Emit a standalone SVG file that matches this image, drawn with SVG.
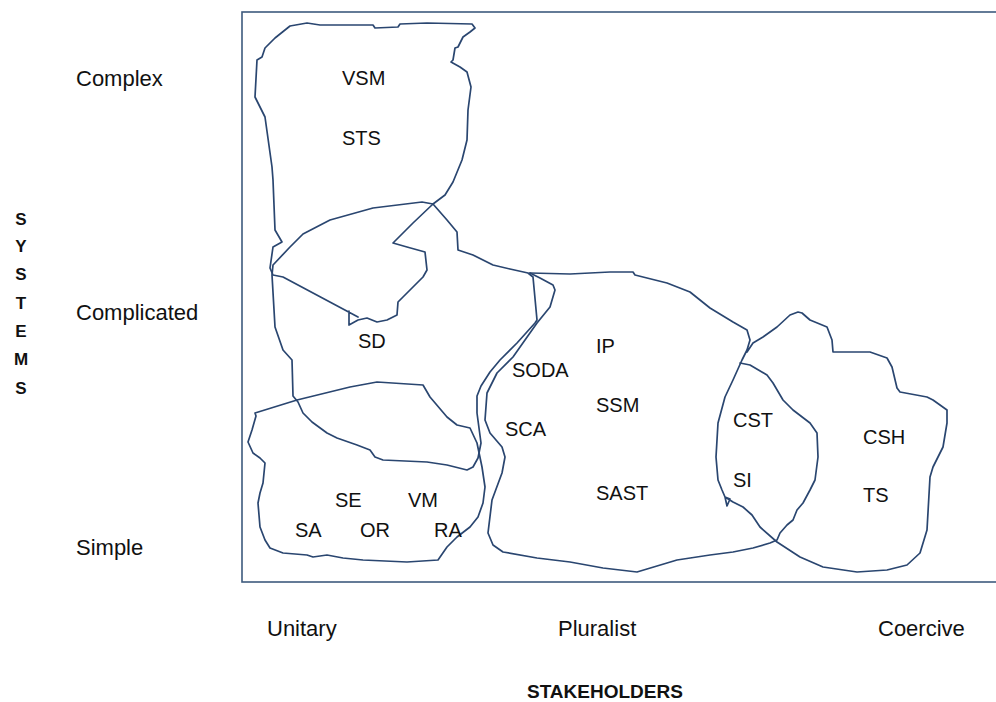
<svg xmlns="http://www.w3.org/2000/svg" width="996" height="702" viewBox="0 0 996 702">
<style>
.bg{fill:#ffffff}
.frame{fill:none;stroke:#3e5a7e;stroke-width:1.6}
.blob{fill:none;stroke:#2a4670;stroke-width:1.7;stroke-linejoin:round;stroke-linecap:round}
.t{font-family:"Liberation Sans",Arial,sans-serif;font-size:20px;fill:#111111}
.ax{font-family:"Liberation Sans",Arial,sans-serif;font-size:22px;fill:#111111}
.b{font-family:"Liberation Sans",Arial,sans-serif;font-weight:bold;fill:#111111}
.v{font-size:17px;text-anchor:middle}
</style>
<rect class="bg" x="0" y="0" width="996" height="702"/>
<rect class="frame" x="242" y="12" width="770" height="570"/>

<g id="connectors">
<path id="vsm-loop" class="blob" d="M358 317 L283 277 L273 275 L270 268 L273 247 L282 242 L275 230 L273 180 L272 167 L265 117 L255 97 L257 60 L262 57 L265 48 L275 38 L290 26 L307 23 L320 25 L373 25 L375 28 L398 27 L400 24 L427 23 L472 24 L475 28 L470 32 L463 37 L458 47 L455 48 L453 60 L451 62 L460 67 L467 72 L471 87 L468 110 L467 140 L462 160 L453 182 L445 195 L433 204 L413 223 L393 243 L407 247 L425 252 L427 270 L423 277 L403 297 L398 302 L397 315 L387 320 L377 322 L367 318 L358 320 L349 325 L349 311"/>
<path id="sd-loop" class="blob" d="M273 265 L290 247 L303 234 L330 220 L373 208 L422 202 L433 204 L447 220 L457 232 L458 250 L473 255 L493 265 L510 269 L528 273 L533 277 L537 320 L535 323 L517 343 L500 360 L490 372 L481 386 L477 396 L477 413 L481 443 L478 458 L473 467 L467 470 L447 465 L427 462 L383 460 L375 457 L370 450 L357 445 L337 438 L327 433 L312 422 L303 413 L298 402 L293 396 L292 360 L283 350 L275 327 L272 275 Z"/>
<path id="simple-loop" class="blob" d="M255 413 L297 400 L350 387 L377 382 L423 385 L430 397 L447 417 L457 425 L470 428 L477 443 L482 467 L485 487 L483 503 L478 517 L470 527 L457 537 L447 547 L438 560 L407 562 L363 560 L343 558 L327 555 L313 557 L307 555 L283 553 L270 548 L265 540 L260 527 L258 503 L260 493 L263 483 L265 463 L260 458 L253 453 L248 442 L252 430 L256 416 Z"/>
<path id="pluralist-top-csh" class="blob" d="M530 273 L570 274 L610 272 L633 272 L635 275 L667 283 L690 292 L710 308 L733 322 L747 330 L750 340 L747 350 L742 360 L733 380 L725 397 L718 423 L716 457 L718 480 L722 490 L725 497 L727 506 L730 499 L725 497 L733 502 L743 507 L752 515 L760 527 L777 542 L800 557 L823 567 L857 572 L887 570 L907 565 L920 553 L927 530 L930 477 L933 467 L938 457 L943 447 L947 423 L947 410 L933 400 L927 397 L900 392 L897 388 L892 367 L887 358 L870 352 L833 352 L832 340 L827 327 L810 320 L802 313 L798 312 L790 315 L777 327 L763 337 L753 343 L747 352"/>
<path id="pluralist-bottom-cst" class="blob" d="M740 363 L750 365 L767 375 L773 383 L783 400 L793 410 L810 423 L817 433 L818 457 L815 480 L810 490 L803 503 L797 510 L793 520 L787 525 L780 533 L777 540 L770 543 L753 548 L733 552 L710 555 L677 560 L637 572 L603 568 L570 562 L537 558 L503 552 L493 545 L488 533 L492 500 L502 473 L505 457 L502 447 L490 433 L485 420 L487 393 L497 373 L513 357 L537 323 L550 307 L555 290 L553 285 L540 278 L530 273"/>
</g>

<g id="axis-systems">
<text class="b v" x="21" y="225">S</text>
<text class="b v" x="21" y="252">Y</text>
<text class="b v" x="21" y="280">S</text>
<text class="b v" x="21" y="309">T</text>
<text class="b v" x="21" y="337">E</text>
<text class="b v" x="21" y="365">M</text>
<text class="b v" x="21" y="394">S</text>
</g>
<g id="axis-y-labels">
<text class="ax" x="76" y="86">Complex</text>
<text class="ax" x="76" y="320">Complicated</text>
<text class="ax" x="76" y="555">Simple</text>
</g>
<g id="axis-x-labels">
<text class="ax" x="267" y="636">Unitary</text>
<text class="ax" x="558" y="636">Pluralist</text>
<text class="ax" x="878" y="636">Coercive</text>
<text class="b" font-size="19" x="527" y="698">STAKEHOLDERS</text>
</g>

<g id="node-complex-unitary">
<text class="t" x="342" y="85">VSM</text>
<text class="t" x="342" y="145">STS</text>
</g>
<g id="node-complicated-unitary">
<text class="t" x="358" y="348">SD</text>
</g>
<g id="node-simple-unitary">
<text class="t" x="335" y="507">SE</text>
<text class="t" x="408" y="507">VM</text>
<text class="t" x="295" y="537">SA</text>
<text class="t" x="360" y="537">OR</text>
<text class="t" x="434" y="537">RA</text>
</g>
<g id="node-pluralist">
<text class="t" x="596" y="353">IP</text>
<text class="t" x="512" y="377">SODA</text>
<text class="t" x="596" y="412">SSM</text>
<text class="t" x="505" y="436">SCA</text>
<text class="t" x="596" y="500">SAST</text>
</g>
<g id="node-cst">
<text class="t" x="733" y="427">CST</text>
<text class="t" x="733" y="487">SI</text>
</g>
<g id="node-coercive">
<text class="t" x="863" y="444">CSH</text>
<text class="t" x="863" y="502">TS</text>
</g>
</svg>
